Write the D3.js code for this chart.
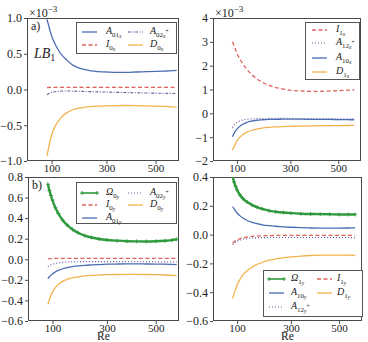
<!DOCTYPE html>
<html><head><meta charset="utf-8">
<script src="https://cdn.jsdelivr.net/npm/d3@7"></script>
<style>
body{margin:0;background:#fff;}
svg{display:block;}
text{font-family:"Liberation Serif","Times New Roman",serif;}
</style>
</head><body>
<svg id="c" width="368" height="342"></svg>
<script>
// ---------- DATA ----------
const reLeft  = [85, 90, 95, 100, 110, 120, 135, 150, 170, 190, 215, 240, 270, 300, 340, 380, 420, 460, 500, 540, 570, 590];
const reRight = [85, 90, 95, 100, 110, 120, 135, 150, 170, 190, 215, 240, 270, 300, 340, 380, 420, 460, 500, 540, 570];
const xTicks = [100, 300, 500];

// panel a) top-left, x-components of LB1 (x1e-3)
const A01x  = [0.98, 0.90, 0.82, 0.75, 0.65, 0.57, 0.48, 0.42, 0.35, 0.31, 0.28, 0.26, 0.25, 0.245, 0.24, 0.24, 0.245, 0.25, 0.253, 0.258, 0.263, 0.268];
const A02xp = [-0.075, -0.06, -0.05, -0.042, -0.032, -0.026, -0.022, -0.021, -0.022, -0.024, -0.027, -0.03, -0.033, -0.036, -0.04, -0.043, -0.046, -0.049, -0.051, -0.053, -0.055, -0.056];
const I0x   = [0.026, 0.028, 0.029, 0.03, 0.03, 0.03, 0.03, 0.03, 0.03, 0.03, 0.03, 0.03, 0.03, 0.03, 0.03, 0.03, 0.03, 0.03, 0.03, 0.03, 0.03, 0.03];
const D0x   = [-0.93, -0.82, -0.72, -0.64, -0.53, -0.46, -0.38, -0.33, -0.29, -0.265, -0.25, -0.24, -0.233, -0.228, -0.225, -0.224, -0.225, -0.228, -0.232, -0.237, -0.242, -0.246];
const yTicksA = [-1, -0.5, 0, 0.5, 1];

// top-right (x1e-3)
const I1x   = [3.0, 2.85, 2.68, 2.52, 2.28, 2.08, 1.84, 1.65, 1.45, 1.31, 1.18, 1.09, 1.02, 0.97, 0.94, 0.925, 0.925, 0.935, 0.95, 0.97, 0.99];
const A12xp = [-0.6, -0.5, -0.43, -0.38, -0.32, -0.28, -0.25, -0.235, -0.225, -0.22, -0.215, -0.215, -0.215, -0.215, -0.218, -0.22, -0.222, -0.225, -0.228, -0.232, -0.235];
const A10x  = [-0.98, -0.85, -0.74, -0.66, -0.54, -0.46, -0.38, -0.33, -0.29, -0.27, -0.255, -0.25, -0.247, -0.246, -0.247, -0.25, -0.253, -0.257, -0.261, -0.266, -0.27];
const D1x   = [-1.55, -1.4, -1.27, -1.16, -1.0, -0.9, -0.79, -0.72, -0.66, -0.62, -0.59, -0.57, -0.555, -0.545, -0.535, -0.528, -0.522, -0.517, -0.513, -0.51, -0.508];
const yTicksB = [-2, -1, 0, 1, 2, 3, 4];

// panel b) bottom-left, y-components
const Om0y  = [0.73, 0.67, 0.62, 0.575, 0.5, 0.445, 0.38, 0.335, 0.29, 0.258, 0.23, 0.212, 0.197, 0.188, 0.181, 0.176, 0.174, 0.173, 0.175, 0.18, 0.186, 0.195];
const A02yp = [-0.07, -0.06, -0.053, -0.048, -0.04, -0.035, -0.03, -0.027, -0.025, -0.024, -0.023, -0.022, -0.022, -0.022, -0.022, -0.022, -0.022, -0.023, -0.024, -0.026, -0.027, -0.028];
const I0y   = [0.004, 0.006, 0.007, 0.008, 0.008, 0.008, 0.008, 0.008, 0.008, 0.008, 0.008, 0.008, 0.008, 0.008, 0.008, 0.008, 0.008, 0.008, 0.008, 0.008, 0.008, 0.008];
const D0y   = [-0.44, -0.39, -0.35, -0.32, -0.275, -0.245, -0.215, -0.196, -0.18, -0.17, -0.162, -0.157, -0.153, -0.15, -0.148, -0.147, -0.147, -0.148, -0.15, -0.153, -0.156, -0.158];
const A01y  = [-0.19, -0.17, -0.155, -0.142, -0.122, -0.108, -0.092, -0.082, -0.072, -0.065, -0.059, -0.055, -0.051, -0.048, -0.046, -0.045, -0.045, -0.046, -0.047, -0.048, -0.05, -0.051];
const yTicksC = [-0.6, -0.4, -0.2, 0, 0.2, 0.4, 0.6, 0.8];

// bottom-right
const Om1y  = [0.40, 0.365, 0.335, 0.31, 0.275, 0.25, 0.226, 0.208, 0.19, 0.178, 0.166, 0.159, 0.153, 0.149, 0.145, 0.143, 0.142, 0.141, 0.14, 0.14, 0.14];
const I1y   = [-0.06, -0.05, -0.042, -0.036, -0.028, -0.022, -0.017, -0.013, -0.01, -0.008, -0.007, -0.006, -0.005, -0.005, -0.005, -0.005, -0.005, -0.005, -0.005, -0.005, -0.005];
const A10y  = [0.195, 0.178, 0.163, 0.15, 0.13, 0.115, 0.098, 0.087, 0.076, 0.068, 0.062, 0.058, 0.054, 0.051, 0.048, 0.046, 0.045, 0.045, 0.045, 0.046, 0.047];
const D1y   = [-0.445, -0.41, -0.38, -0.35, -0.31, -0.28, -0.25, -0.228, -0.207, -0.192, -0.178, -0.169, -0.161, -0.155, -0.149, -0.145, -0.143, -0.142, -0.142, -0.143, -0.145];
const A12yp = [-0.07, -0.06, -0.052, -0.046, -0.038, -0.032, -0.027, -0.024, -0.022, -0.021, -0.02, -0.02, -0.02, -0.02, -0.02, -0.02, -0.02, -0.02, -0.02, -0.02, -0.021];
const yTicksD = [-0.6, -0.4, -0.2, 0, 0.2, 0.4];

// ---------- STYLE ----------
const C = {blue:"#4a6db3", red:"#e0625c", purple:"#6a5a9c", orange:"#f3b24e", green:"#2f9a3c"};
const ST = {
  solidB:{color:C.blue, dash:null, w:1.3},
  dashR:{color:C.red, dash:"4,2.5", w:1.3},
  dashdotP:{color:C.purple, dash:"3,1.5,1,1.5", w:1.1},
  dotP:{color:C.purple, dash:"1,2", w:1.2},
  solidO:{color:C.orange, dash:null, w:1.3},
  green:{color:C.green, dash:null, w:2.4, marker:true}
};

const panels = [
  {x0:27, x1:179, y0:18, y1:161, yDomain:[-1,1], yTicks:yTicksA, fmt:d3.format(".1f"), re:reLeft,
   series:[
     {v:A01x, s:ST.solidB, lab:["A","01","x"]},
     {v:A02xp, s:ST.dashdotP, lab:["A","02","x","+"]},
     {v:I0x, s:ST.dashR, lab:["I","0","x"]},
     {v:D0x, s:ST.solidO, lab:["D","0","x"]}],
   legend:{box:[76,22,100,31], lx:[82,128], tx:[106,150], ry:[32,45], pos:[[0,0],[1,0],[0,1],[1,1]]},
   exp:true, tag:"a)", xlabel:false},
  {x0:213, x1:361, y0:18, y1:161, yDomain:[-2,4], yTicks:yTicksB, fmt:d3.format("d"), re:reRight,
   series:[
     {v:I1x, s:ST.dashR, lab:["I","1","x"]},
     {v:A12xp, s:ST.dotP, lab:["A","12","x","+"]},
     {v:A10x, s:ST.solidB, lab:["A","10","x"]},
     {v:D1x, s:ST.solidO, lab:["D","1","x"]}],
   legend:{box:[305,22,54,57], lx:[312], tx:[336], ry:[30,43,58,72], pos:[[0,0],[0,1],[0,2],[0,3]]},
   exp:true, tag:null, xlabel:false},
  {x0:28, x1:179, y0:177, y1:321, yDomain:[-0.6,0.8], yTicks:yTicksC, fmt:d3.format(".1f"), re:reLeft,
   series:[
     {v:I0y, s:ST.dashR, lab:["I","0","y"]},
     {v:A02yp, s:ST.dotP, lab:["A","02","y","+"]},
     {v:D0y, s:ST.solidO, lab:["D","0","y"]},
     {v:A01y, s:ST.solidB, lab:["A","01","y"]},
     {v:Om0y, s:ST.green, lab:["Ω","0","y"]}],
   legend:{box:[76,182,100,41], lx:[82,128], tx:[106,150], ry:[193,205,218], pos:[[0,1],[1,0],[1,1],[0,2],[0,0]]},
   exp:false, tag:"b)", xlabel:true},
  {x0:213, x1:362, y0:177, y1:321, yDomain:[-0.6,0.4], yTicks:yTicksD, fmt:d3.format(".1f"), re:reRight,
   series:[
     {v:A10y, s:ST.solidB, lab:["A","10","y"]},
     {v:I1y, s:ST.dashR, lab:["I","1","y"]},
     {v:A12yp, s:ST.dotP, lab:["A","12","y","+"]},
     {v:D1y, s:ST.solidO, lab:["D","1","y"]},
     {v:Om1y, s:ST.green, lab:["Ω","1","y"]}],
   legend:{box:[263,270,99,46], lx:[269,317], tx:[291,337], ry:[279,293,307], pos:[[0,1],[1,0],[0,2],[1,1],[0,0]]},
   exp:false, tag:null, xlabel:true}
];

const svg = d3.select("#c");
const frame = "#4a4a4a";

function plusPath(x, y, r){ return `M${x-r},${y}H${x+r}M${x},${y-r}V${y+r}`; }

function richLabel(g, x, y, p, size){
  const t = g.append("text").attr("x", x).attr("y", y).attr("font-size", size)
    .attr("font-style", "italic").attr("fill", "#222");
  t.append("tspan").text(p[0]);
  if (p[1]) t.append("tspan").attr("font-size", size*0.7).attr("dy", size*0.25).attr("font-style","normal").text(p[1]);
  if (p[2]) t.append("tspan").attr("font-size", size*0.55).attr("dy", size*0.12).text(p[2]);
  if (p[3]) t.append("tspan").attr("font-size", size*0.55).attr("dy", -size*0.5).attr("font-style","normal").text(p[3]);
}

panels.forEach((P, i) => {
  const x = d3.scalePow().exponent(0.85).domain([25, 600]).range([P.x0, P.x1]);
  const y = d3.scaleLinear().domain(P.yDomain).range([P.y1, P.y0]);
  const g = svg.append("g");

  const cid = "clip" + i;
  svg.append("clipPath").attr("id", cid).append("rect")
    .attr("x", P.x0).attr("y", P.y0).attr("width", P.x1 - P.x0).attr("height", P.y1 - P.y0);

  // axes
  const xa = g.append("g").attr("transform", `translate(0,${P.y1})`)
    .call(d3.axisBottom(x).tickValues(xTicks).tickFormat(d3.format("d")).tickSize(3).tickPadding(0));
  const ya = g.append("g").attr("transform", `translate(${P.x0},0)`)
    .call(d3.axisLeft(y).tickValues(P.yTicks).tickFormat(P.fmt).tickSize(3).tickPadding(2));
  [xa, ya].forEach(a => {
    a.attr("font-family", null);
    a.select(".domain").remove();
    a.selectAll(".tick line").attr("stroke", frame);
    a.selectAll("text").attr("font-size", 12).attr("fill", "#222")
      .style("font-family", '"Liberation Serif",serif');
  });
  xa.selectAll("text").attr("font-size", 11);
  g.append("rect").attr("x", P.x0 + 0.5).attr("y", P.y0 + 0.5)
    .attr("width", P.x1 - P.x0 - 1).attr("height", P.y1 - P.y0 - 1)
    .attr("fill", "none").attr("stroke", frame).attr("stroke-width", 1);

  // lines
  const plot = g.append("g").attr("clip-path", `url(#${cid})`);
  P.series.forEach(S => {
    const pts = P.re.map((r, k) => [x(r), y(S.v[k])]);
    const line = d3.line().curve(d3.curveMonotoneX);
    plot.append("path").attr("d", line(pts)).attr("fill", "none")
      .attr("stroke", S.s.color).attr("stroke-width", S.s.w)
      .attr("stroke-dasharray", S.s.dash);
    if (S.s.marker) {
      plot.append("path").attr("d", pts.map(p => plusPath(p[0], p[1], 2)).join(""))
        .attr("stroke", S.s.color).attr("stroke-width", 0.9).attr("fill", "none");
    }
  });

  // legend
  const L = P.legend;
  g.append("rect").attr("x", L.box[0] + 0.5).attr("y", L.box[1] + 0.5)
    .attr("width", L.box[2]).attr("height", L.box[3])
    .attr("fill", "#fff").attr("stroke", "#555").attr("stroke-width", 1);
  P.series.forEach((S, k) => {
    const [c, r] = L.pos[k];
    const lx = L.lx[c], ly = L.ry[r];
    g.append("line").attr("x1", lx).attr("x2", lx + 15).attr("y1", ly).attr("y2", ly)
      .attr("stroke", S.s.color).attr("stroke-width", S.s.w > 2 ? 1.6 : S.s.w)
      .attr("stroke-dasharray", S.s.dash);
    if (S.s.marker) {
      g.append("path").attr("d", plusPath(lx, ly, 2) + plusPath(lx + 15, ly, 2))
        .attr("stroke", S.s.color).attr("stroke-width", 1);
    }
    richLabel(g, L.tx[c], ly + 2, S.lab, 10);
  });

  // multiplier
  if (P.exp) {
    const t = g.append("text").attr("x", P.x0 + 2).attr("y", P.y0 - 1).attr("font-size", 12).attr("fill", "#222");
    t.append("tspan").text("×10");
    t.append("tspan").attr("font-size", 9).attr("dy", -5).text("−3");
  }
  if (P.tag) {
    g.append("text").attr("x", P.x0 + 4).attr("y", P.y0 + 12).attr("font-size", 12).attr("fill", "#222").text(P.tag);
  }
  if (P.xlabel) {
    g.append("text").attr("x", (P.x0 + P.x1) / 2).attr("y", 340).attr("text-anchor", "middle")
      .attr("font-size", 11.5).attr("fill", "#222").text("Re");
  }
  if (i === 0) {
    const t = g.append("text").attr("x", 34).attr("y", 58).attr("font-size", 14).attr("fill", "#222");
    t.append("tspan").attr("font-style", "italic").text("LB");
    t.append("tspan").attr("font-size", 10).attr("dy", 3).text("1");
  }
});
</script>
</body></html>
